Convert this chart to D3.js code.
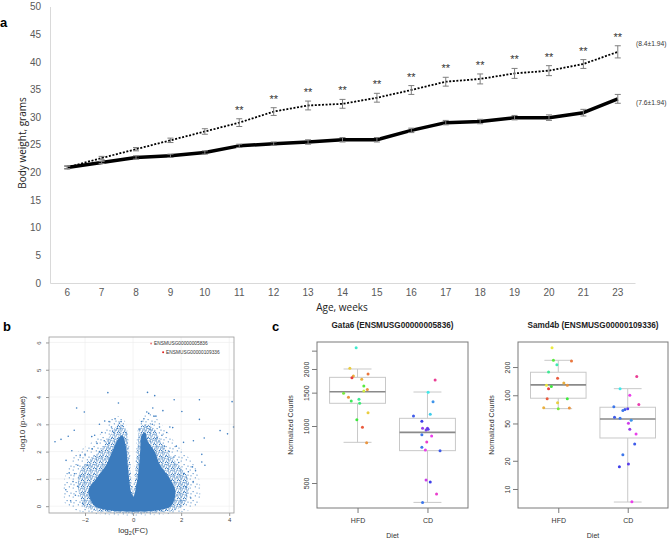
<!DOCTYPE html>
<html>
<head>
<meta charset="utf-8">
<script src="https://cdn.jsdelivr.net/npm/d3@7"></script>
<style>
  body { margin: 0; background: #fff; }
</style>
</head>
<body>
<script>
// ---- panel a: body weight by age
var weeks = [6, 7, 8, 9, 10, 11, 12, 13, 14, 15, 16, 17, 18, 19, 20, 21, 23];
var hfdMean = [20.9, 22.6, 24.2, 25.8, 27.4, 29.0, 31.0, 32.1, 32.4, 33.5, 34.9, 36.4, 36.9, 37.9, 38.4, 39.6, 41.8];
var hfdErr = [0.3, 0.3, 0.3, 0.4, 0.5, 0.7, 0.7, 0.8, 0.8, 0.8, 0.8, 0.8, 0.9, 0.9, 0.9, 0.8, 1.1];
var cdMean = [20.9, 21.8, 22.7, 23.0, 23.6, 24.8, 25.2, 25.5, 25.9, 25.9, 27.6, 29.0, 29.2, 29.9, 29.9, 30.8, 33.3];
var cdErr = [0.2, 0.2, 0.3, 0.3, 0.3, 0.3, 0.3, 0.4, 0.4, 0.4, 0.4, 0.4, 0.4, 0.4, 0.5, 0.6, 0.8];
var signif = ["", "", "", "", "", "**", "**", "**", "**", "**", "**", "**", "**", "**", "**", "**", "**"];
var yTicksA = [0, 5, 10, 15, 20, 25, 30, 35, 40, 45, 50];
var endLabels = ["(8.4\u00b11.94)", "(7.6\u00b11.94)"];

// ---- panel b: volcano plot (dense cloud outlines + scattered genes)
var cloudCore = [[-1.5, -0.05], [1.5, -0.05], [1.72, 0.25], [1.75, 0.6], [1.5, 1.05], [1.1, 1.55], [0.9, 2.0], [0.6, 2.4], [0.5, 2.7], [0.35, 2.6], [0.3, 2.1], [0.26, 1.6], [0.2, 1.1], [0.12, 0.7], [0.02, 0.35], [-0.08, 0.5], [-0.15, 0.9], [-0.22, 1.5], [-0.3, 2.2], [-0.45, 2.6], [-0.6, 2.5], [-0.85, 2.05], [-1.1, 1.55], [-1.5, 1.05], [-1.85, 0.6], [-1.8, 0.3]];
var cloudHalo = [[-2.0, -0.05], [2.0, -0.05], [2.3, 0.5], [2.3, 1.0], [2.0, 1.4], [1.6, 1.8], [1.2, 2.3], [0.9, 2.8], [0.6, 3.0], [0.3, 2.9], [0.2, 2.3], [0.12, 1.5], [0.05, 0.8], [0.0, 0.5], [-0.06, 0.8], [-0.12, 1.5], [-0.2, 2.3], [-0.35, 2.9], [-0.6, 3.0], [-0.95, 2.6], [-1.3, 2.1], [-1.8, 1.7], [-2.2, 1.3], [-2.3, 0.8], [-2.2, 0.3]];
var cloudFringe = [[-2.7, -0.05], [2.6, -0.05], [2.8, 0.6], [2.6, 1.4], [2.1, 2.0], [1.6, 2.5], [1.1, 3.1], [0.7, 3.4], [0.3, 3.2], [0.15, 2.4], [0.06, 1.4], [0.0, 0.7], [-0.08, 1.4], [-0.18, 2.4], [-0.4, 3.2], [-0.8, 3.3], [-1.2, 2.8], [-1.8, 2.3], [-2.4, 1.9], [-2.8, 1.2], [-2.9, 0.5]];
var volcanoPoints = [[-1.05, 4.16], [0.6, 4.17], [0.9, 4.05], [1.71, 3.9], [2.76, 3.9], [4.12, 3.83], [-0.61, 3.78], [-2.35, 3.6], [-2.03, 3.45], [0.82, 3.6], [0.87, 3.3], [0.57, 3.45], [1.24, 3.5], [2.03, 3.47], [2.76, 3.18], [-1.18, 3.12], [-0.57, 3.04], [4.18, 2.9], [-2.45, 2.78], [-3.25, 2.36], [-3.0, 2.45], [-2.7, 2.56], [3.62, 2.77], [3.93, 2.65], [2.96, 2.5], [2.51, 2.4], [-1.72, 2.55], [-1.4, 3.0], [1.53, 2.9], [1.65, 2.88], [2.1, 2.34], [-2.2, 1.87], [-2.55, 2.03], [-2.66, 1.22], [-2.79, 1.68], [2.86, 1.9], [2.86, 1.62], [2.99, 1.5], [2.47, 1.44], [2.1, 0.71], [2.3, 1.26], [-2.44, 1.19], [-2.31, 0.73],
  [-2.4, 0.4], [-2.5, 0.9], [-2.3, 1.5], [-2.0, 1.9], [-1.7, 2.1], [-1.5, 2.3], [-1.2, 2.4], [-0.9, 2.9], [-0.75, 3.2], [-0.5, 3.1], [-0.45, 2.95], [-0.3, 2.7], [-2.6, 0.2], [-2.2, 1.1], [-1.9, 1.5], [-1.6, 2.6], [-1.3, 2.7], [-1.0, 3.1], [-0.85, 2.75], [-0.65, 2.85], [-2.8, 0.6], [-2.1, 0.1], [-1.4, 2.0], [-1.0, 2.3],
  [0.35, 3.1], [0.45, 3.2], [0.55, 2.9], [0.7, 2.8], [0.8, 3.0], [1.0, 2.5], [1.2, 2.6], [1.3, 2.2], [1.5, 2.0], [1.7, 1.8], [1.9, 1.6], [2.1, 1.2], [2.2, 0.7], [2.4, 0.3], [2.5, 0.9], [0.25, 2.8], [1.4, 2.7], [1.8, 2.2], [2.0, 0.2], [2.6, 1.3], [0.95, 3.3], [1.1, 2.9], [0.65, 3.4]];
var volcanoHits = [["ENSMUSG00000005836", 0.75, 5.96], ["ENSMUSG00000109336", 1.25, 5.64]];
var volcanoXTicks = [-2, 0, 2, 4];
var volcanoYTicks = [0, 1, 2, 3, 4, 5, 6];

// ---- panel c: box plots [min, q1, median, q3, max]; points [value, jitter, sample]
var diets = ["HFD", "CD"];
var gataBoxHFD = [820, 1318, 1517, 1807, 2000];
var gataBoxCD = [395, 741, 926, 1098, 1512];
var gataHFD = [[2590, -0.02, 17], [2019, -0.11, 5], [1836, -0.06, 4], [1799, -0.08, 0], [1881, 0.15, 2], [1764, 0.06, 4], [1626, 0.09, 11], [1561, 0.14, 3], [1530, 0.09, 7], [1488, -0.2, 10], [1417, -0.13, 3], [1383, 0.02, 15], [1355, -0.09, 13], [1318, 0.03, 14], [1175, 0.15, 5], [1080, -0.01, 12], [984, 0.07, 1], [816, 0.13, 3]];
var gataCD = [[1750, 0.11, 33], [1506, 0.01, 18], [1343, 0.08, 21], [1153, 0.04, 19], [1129, -0.2, 23], [1059, -0.08, 24], [972, -0.07, 27], [972, 0.0, 26], [952, -0.02, 26], [960, 0.01, 25], [900, -0.08, 22], [885, 0.06, 30], [823, -0.01, 31], [772, -0.08, 22], [747, -0.03, 30], [741, 0.18, 23], [519, -0.02, 29], [506, 0.04, 24], [437, 0.13, 31], [395, -0.07, 22]];
var gataTicks = [500, 1000, 1500, 2000, 2500];
var gataTickLabels = ["500", "1000", "1500", "2000", ""];
var samdBoxHFD = [72, 93, 129, 176, 236];
var samdBoxCD = [7.26, 35, 55.8, 74.5, 117.6];
var samdHFD = [[322, -0.09, 6], [236, -0.07, 11], [232, 0.19, 2], [212, -0.02, 16], [177, -0.14, 15], [152, -0.01, 1], [135, 0.08, 4], [128, 0.13, 3], [128, -0.17, 6], [124, -0.1, 12], [117, -0.14, 0], [92, -0.16, 1], [92, 0.13, 12], [83.4, -0.01, 5], [73.7, -0.21, 4], [72, 0.0, 10], [73, 0.16, 3]];
var samdCD = [[159, 0.13, 33], [117, -0.11, 18], [100, 0.03, 30], [79.5, 0.16, 32], [75.6, -0.2, 22], [72, 0.0, 25], [70.4, -0.04, 23], [68.6, -0.07, 22], [58.2, -0.19, 23], [56.8, -0.11, 22], [54.1, 0.05, 21], [50.3, 0.01, 29], [43.5, 0.03, 27], [38.7, 0.12, 30], [30.2, 0.1, 23], [23.2, -0.07, 22], [17.3, -0.12, 24], [18.5, 0.01, 25], [7.3, 0.06, 30]];
var samdTicks = [10, 20, 50, 100, 200];

var svg = d3.select("body").append("svg")
  .attr("width", 669).attr("height", 539)
  .style("font-family", "'Liberation Sans', Arial, sans-serif");

// speckle fills for the volcano cloud
var defs = svg.append("defs");
var halo = defs.append("pattern").attr("id", "halo").attr("width", 6).attr("height", 6).attr("patternUnits", "userSpaceOnUse");
[[0.8, 1.2], [3.5, 0.5], [5.1, 2.9], [2.2, 3.8], [4.4, 5.2], [1.0, 5.0], [3.0, 2.3], [5.5, 0.6], [0.3, 3.0]].forEach(function (p) {
  halo.append("circle").attr("cx", p[0]).attr("cy", p[1]).attr("r", 0.65).attr("fill", "#3c7dc0");
});
var fringe = defs.append("pattern").attr("id", "fringe").attr("width", 9).attr("height", 9).attr("patternUnits", "userSpaceOnUse");
[[1.2, 2.0], [6.3, 0.8], [4.1, 5.6], [8.0, 7.1], [2.0, 7.8]].forEach(function (p) {
  fringe.append("circle").attr("cx", p[0]).attr("cy", p[1]).attr("r", 0.6).attr("fill", "#3c7dc0");
});

// ================= panel a =================
var xA = d3.scaleBand().domain(weeks).range([50, 635]);
var yA = d3.scaleLinear().domain([0, 50]).range([283, 6.5]);
function cx(w) { return xA(w) + xA.bandwidth() / 2; }

var axA = svg.append("g").attr("transform", "translate(50,0)")
  .call(d3.axisLeft(yA).tickValues(yTicksA).tickSize(0).tickPadding(9));
axA.select(".domain").attr("stroke", "#d9d9d9");
axA.selectAll("text").attr("fill", "#595959").style("font-size", "10px");

var axB = svg.append("g").attr("transform", "translate(0,283)")
  .call(d3.axisBottom(xA).tickSize(0).tickPadding(6));
axB.select(".domain").attr("stroke", "#d9d9d9");
axB.selectAll("text").attr("fill", "#595959").style("font-size", "10px");

svg.append("text").attr("transform", "translate(26,143) rotate(-90)")
  .attr("text-anchor", "middle").style("font-size", "10px").style("font-family", "'Open Sans', sans-serif")
  .attr("fill", "#222").text("Body weight, grams");
svg.append("text").attr("x", 342).attr("y", 311)
  .attr("text-anchor", "middle").style("font-size", "10px").style("font-family", "'Open Sans', sans-serif")
  .attr("fill", "#222").text("Age, weeks");
svg.append("text").attr("x", 0).attr("y", 27).style("font-size", "13px").style("font-weight", "bold").text("a");

var lineA = d3.line().x(function (d, i) { return cx(weeks[i]); }).y(function (d) { return yA(d); });

svg.append("path").datum(cdMean).attr("d", lineA)
  .attr("fill", "none").attr("stroke", "#000").attr("stroke-width", 3.5).attr("stroke-linejoin", "round");
svg.append("path").datum(hfdMean).attr("d", lineA)
  .attr("fill", "none").attr("stroke", "#000").attr("stroke-width", 1.8).attr("stroke-dasharray", "2,1.6");

function errBars(means, errs) {
  var g = svg.append("g").attr("stroke", "#7f7f7f").attr("stroke-width", 1);
  weeks.forEach(function (w, i) {
    var x = cx(w), hi = yA(means[i] + errs[i]), lo = yA(means[i] - errs[i]);
    g.append("line").attr("x1", x).attr("x2", x).attr("y1", hi).attr("y2", lo);
    g.append("line").attr("x1", x - 3).attr("x2", x + 3).attr("y1", hi).attr("y2", hi);
    g.append("line").attr("x1", x - 3).attr("x2", x + 3).attr("y1", lo).attr("y2", lo);
  });
}
errBars(cdMean, cdErr);
errBars(hfdMean, hfdErr);

svg.append("g").selectAll("text").data(signif).enter().append("text")
  .attr("x", function (d, i) { return cx(weeks[i]); })
  .attr("y", function (d, i) { return yA(hfdMean[i] + hfdErr[i]) - 5; })
  .attr("text-anchor", "middle").style("font-size", "11px").attr("fill", "#333")
  .text(function (d) { return d; });

var last = weeks.length - 1;
svg.append("text").attr("x", 636).attr("y", yA(hfdMean[last]) - 5.5)
  .style("font-size", "6.7px").attr("fill", "#333").text(endLabels[0]);
svg.append("text").attr("x", 636).attr("y", yA(cdMean[last]) + 6.5)
  .style("font-size", "6.7px").attr("fill", "#333").text(endLabels[1]);

// ================= panel b =================
var xV = d3.scaleLinear().domain([-3.5, 4.2]).range([49, 234]);
var yV = d3.scaleLinear().domain([-0.25, 6.2]).range([513, 337]);
var gV = svg.append("g");

gV.selectAll(".gx").data(volcanoXTicks).enter().append("line")
  .attr("x1", function (d) { return xV(d); }).attr("x2", function (d) { return xV(d); })
  .attr("y1", 337).attr("y2", 513).attr("stroke", "#ececec").attr("stroke-width", 0.6);
gV.selectAll(".gy").data(volcanoYTicks).enter().append("line")
  .attr("x1", 49).attr("x2", 234)
  .attr("y1", function (d) { return yV(d); }).attr("y2", function (d) { return yV(d); })
  .attr("stroke", "#ececec").attr("stroke-width", 0.6);

var poly = d3.line().x(function (d) { return xV(d[0]); }).y(function (d) { return yV(d[1]); }).curve(d3.curveCatmullRomClosed);
gV.append("path").datum(cloudFringe).attr("d", poly).attr("fill", "url(#fringe)");
gV.append("path").datum(cloudHalo).attr("d", poly).attr("fill", "url(#halo)");
gV.append("path").datum(cloudCore).attr("d", poly).attr("fill", "#3b7bbd");

gV.selectAll("circle.pt").data(volcanoPoints).enter().append("circle")
  .attr("cx", function (d) { return xV(d[0]); }).attr("cy", function (d) { return yV(d[1]); })
  .attr("r", 0.8).attr("fill", "#3c7dc0");

gV.selectAll("circle.hit").data(volcanoHits).enter().append("circle")
  .attr("cx", function (d) { return xV(d[1]); }).attr("cy", function (d) { return yV(d[2]); })
  .attr("r", 1).attr("fill", function (d, i) { return i === 0 ? "#f08080" : "#e02020"; });
gV.selectAll("text.hit").data(volcanoHits).enter().append("text")
  .attr("x", function (d) { return xV(d[1]) + 3; }).attr("y", function (d) { return yV(d[2]) + 1.8; })
  .style("font-size", "4.8px").attr("fill", "#333").text(function (d) { return d[0]; });

gV.append("rect").attr("x", 49).attr("y", 337).attr("width", 185).attr("height", 176)
  .attr("fill", "none").attr("stroke", "#999").attr("stroke-width", 0.8);

var axVx = gV.append("g").attr("transform", "translate(0,513)")
  .call(d3.axisBottom(xV).tickValues(volcanoXTicks).tickSize(3).tickPadding(2).tickFormat(function (d) { return d < 0 ? "\u2212" + (-d) : d; }));
axVx.select(".domain").remove();
axVx.selectAll("line").attr("stroke", "#999");
axVx.selectAll("text").style("font-size", "6px").attr("fill", "#444");

var axVy = gV.append("g").attr("transform", "translate(49,0)")
  .call(d3.axisLeft(yV).tickValues(volcanoYTicks).tickSize(3).tickFormat(d3.format("d")));
axVy.select(".domain").remove();
axVy.selectAll("line").attr("stroke", "#999");
axVy.selectAll("text").style("font-size", "6px").attr("fill", "#444")
  .attr("text-anchor", "middle").attr("x", 0).attr("dy", 0)
  .attr("transform", "translate(-8,0) rotate(-90)");

gV.append("text").attr("transform", "translate(25,424) rotate(-90)").attr("text-anchor", "middle")
  .style("font-size", "8px").attr("fill", "#333").text("-log10 (p-value)");
var xlab = gV.append("text").attr("x", 133).attr("y", 533).attr("text-anchor", "middle")
  .style("font-size", "8px").attr("fill", "#333");
xlab.append("tspan").text("log");
xlab.append("tspan").attr("dy", 2).style("font-size", "5.5px").text("2");
xlab.append("tspan").attr("dy", -2).text("(FC)");
svg.append("text").attr("x", 3).attr("y", 331).style("font-size", "13px").style("font-weight", "bold").text("b");

// ================= panel c =================
svg.append("text").attr("x", 272).attr("y", 331).style("font-size", "13px").style("font-weight", "bold").text("c");

function color(s) { return d3.hsl(s * 10, 0.8, 0.58).toString(); }

function boxPanel(x0, x1, domain, ticks, tickLabels, title, boxes, points) {
  var g = svg.append("g");
  var x = d3.scaleLinear().domain([0.42, 2.58]).range([x0, x1]);
  var y = d3.scaleLog().domain(domain).range([508, 342]);

  boxes.forEach(function (b, i) {
    var c = x(i + 1), hw = x(1.4) - x(1), cw = x(1.2) - x(1);
    var bg = g.append("g").attr("stroke", "#c8c8c8").attr("stroke-width", 1).attr("fill", "#fff");
    bg.append("line").attr("x1", c).attr("x2", c).attr("y1", y(b[0])).attr("y2", y(b[4]));
    bg.append("line").attr("x1", c - cw).attr("x2", c + cw).attr("y1", y(b[0])).attr("y2", y(b[0]));
    bg.append("line").attr("x1", c - cw).attr("x2", c + cw).attr("y1", y(b[4])).attr("y2", y(b[4]));
    bg.append("rect").attr("x", c - hw).attr("width", 2 * hw).attr("y", y(b[3])).attr("height", y(b[1]) - y(b[3]));
    bg.append("line").attr("x1", c - hw).attr("x2", c + hw).attr("y1", y(b[2])).attr("y2", y(b[2]))
      .attr("stroke", "#8a8a8a").attr("stroke-width", 1.6);
  });

  points.forEach(function (pts, i) {
    g.selectAll(null).data(pts).enter().append("circle")
      .attr("cx", function (d) { return x(i + 1 + d[1]); })
      .attr("cy", function (d) { return y(d[0]); })
      .attr("r", 1.5).attr("fill", function (d) { return color(d[2]); });
  });

  g.append("rect").attr("x", x0).attr("y", 342).attr("width", x1 - x0).attr("height", 166)
    .attr("fill", "none").attr("stroke", "#7a7a7a").attr("stroke-width", 1);

  var ay = g.append("g").attr("transform", "translate(" + x0 + ",0)")
    .call(d3.axisLeft(y).tickValues(ticks).tickSize(5).tickFormat(function (d, i) { return tickLabels[i]; }));
  ay.select(".domain").remove();
  ay.selectAll("line").attr("stroke", "#7a7a7a");
  ay.selectAll("text").style("font-size", "7px").attr("fill", "#333")
    .attr("text-anchor", "middle").attr("x", 0).attr("dy", 0)
    .attr("transform", "translate(-8,0) rotate(-90)");

  var ax = g.append("g").attr("transform", "translate(0,508)")
    .call(d3.axisBottom(x).tickValues([1, 2]).tickSize(5).tickPadding(5).tickFormat(function (d) { return diets[d - 1]; }));
  ax.select(".domain").remove();
  ax.selectAll("line").attr("stroke", "#7a7a7a");
  ax.selectAll("text").style("font-size", "7px").attr("fill", "#333");

  var mid = (x0 + x1) / 2;
  g.append("text").attr("x", mid).attr("y", 328).attr("text-anchor", "middle")
    .style("font-size", "8.2px").style("font-weight", "bold").attr("fill", "#222").text(title);
  g.append("text").attr("x", mid).attr("y", 538).attr("text-anchor", "middle")
    .style("font-size", "7px").attr("fill", "#333").text("Diet");
  g.append("text").attr("transform", "translate(" + (x0 - 24) + ",425) rotate(-90)").attr("text-anchor", "middle")
    .style("font-size", "7px").attr("fill", "#333").text("Normalized Counts");
}

boxPanel(317, 468, [369, 2777], gataTicks, gataTickLabels, "Gata6 (ENSMUSG00000005836)",
  [gataBoxHFD, gataBoxCD], [gataHFD, gataCD]);
boxPanel(518, 668, [6.27, 370], samdTicks, samdTicks.map(String), "Samd4b (ENSMUSG00000109336)",
  [samdBoxHFD, samdBoxCD], [samdHFD, samdCD]);
</script>
</body>
</html>
